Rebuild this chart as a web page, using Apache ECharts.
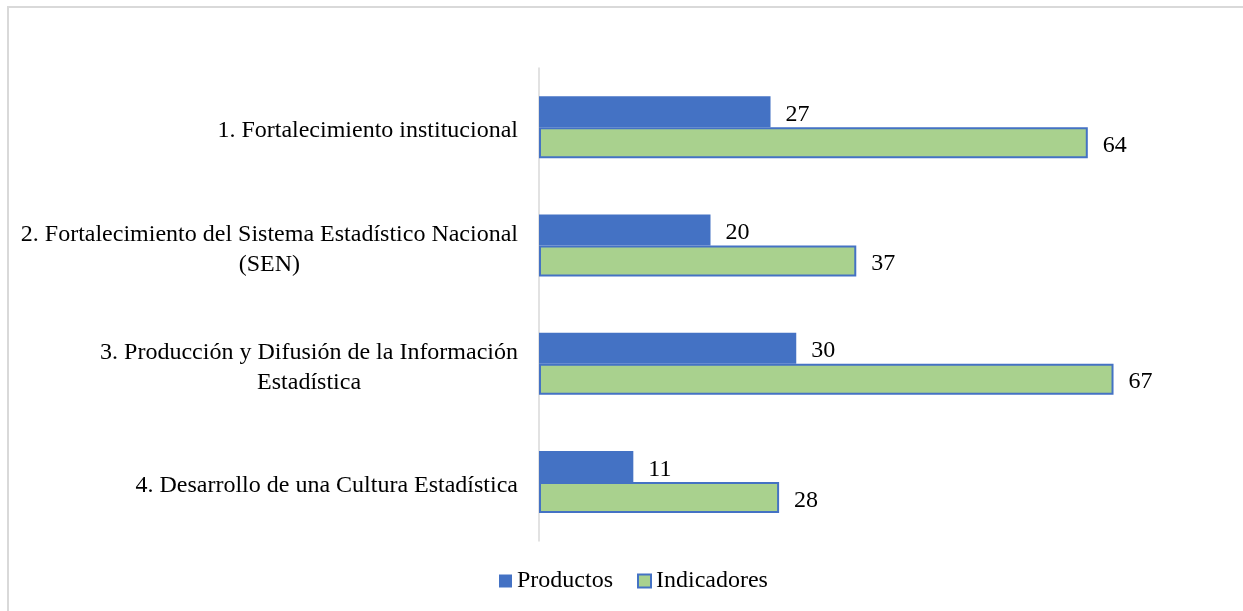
<!DOCTYPE html>
<html>
<head>
<meta charset="utf-8">
<script src="https://cdn.jsdelivr.net/npm/echarts@6/dist/echarts.min.js"></script>
<style>
  html, body { margin: 0; padding: 0; background: #fff; }
  #chart { width: 1243px; height: 611px; }
</style>
</head>
<body>
<div id="chart"></div>
<script>
var categories = [
    "1. Fortalecimiento institucional",
    "2. Fortalecimiento del Sistema Estadístico Nacional\n(SEN)",
    "3. Producción y Difusión de la Información\nEstadística",
    "4. Desarrollo de una Cultura Estadística"
]
var productos = [27, 20, 30, 11]
var indicadores = [64, 37, 67, 28]

var serif = '"Liberation Serif", "Times New Roman", serif'

var chart = echarts.init(document.getElementById("chart"))
var option = {
    animation: false,
    textStyle: { fontFamily: serif },
    graphic: [
        {
            type: "rect",
            shape: { x: 8, y: 7, width: 1260, height: 640 },
            style: { fill: "none", stroke: "#d9d9d9", lineWidth: 2 },
            silent: true
        }
    ],
    legend: {
        data: ["Productos", "Indicadores"],
        left: 494,
        top: 564,
        itemWidth: 13,
        itemHeight: 13,
        itemGap: 24,
        icon: "rect",
        textStyle: { fontFamily: serif, fontSize: 24, color: "#000" }
    },
    grid: {
        left: 539,
        top: 68,
        bottom: 70,
        width: 686
    },
    xAxis: {
        type: "value",
        min: 0,
        max: 80,
        show: false
    },
    yAxis: {
        type: "category",
        data: categories,
        inverse: true,
        axisLine: { show: true, lineStyle: { color: "#d9d9d9", width: 1.5 } },
        axisTick: { show: false },
        axisLabel: {
            margin: 21,
            color: "#000",
            fontFamily: serif,
            fontSize: 24,
            lineHeight: 30,
            padding: [8, 0, 0, 0],
            formatter: function (v) {
                return v.split("\n").map(function (l) { return "{c|" + l + "}" }).join("\n")
            },
            rich: {
                c: { align: "center", fontFamily: serif, fontSize: 24, lineHeight: 30, color: "#000" }
            }
        }
    },
    series: [
        {
            name: "Productos",
            type: "bar",
            data: productos,
            barWidth: 31,
            barGap: "0%",
            itemStyle: { color: "#4472C4" },
            label: {
                show: true,
                position: "right",
                distance: 15,
                offset: [0, 3],
                color: "#000",
                fontFamily: serif,
                fontSize: 24
            }
        },
        {
            name: "Indicadores",
            type: "bar",
            data: indicadores,
            barWidth: 31,
            barGap: "0%",
            itemStyle: { color: "#A9D18E", borderColor: "#4472C4", borderWidth: 2 },
            label: {
                show: true,
                position: "right",
                distance: 15,
                offset: [0, 3],
                color: "#000",
                fontFamily: serif,
                fontSize: 24
            }
        }
    ]
}
chart.setOption(option)
</script>
</body>
</html>
